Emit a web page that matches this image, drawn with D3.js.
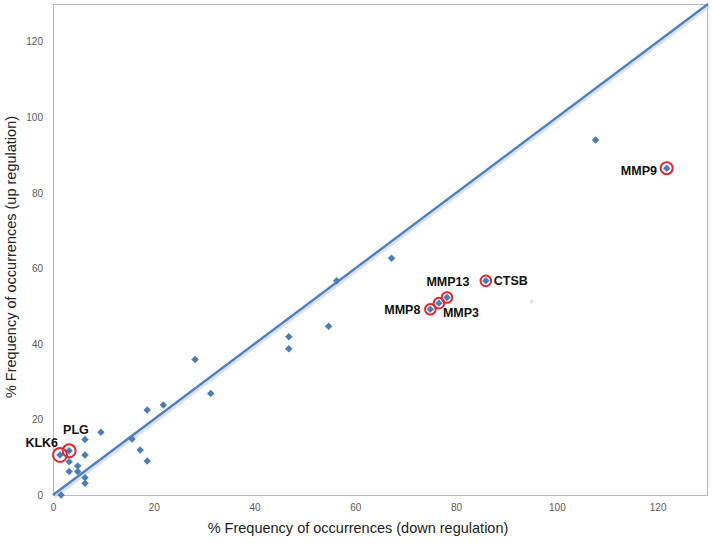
<!DOCTYPE html>
<html>
<head>
<meta charset="utf-8">
<script src="https://cdn.jsdelivr.net/npm/d3@7"></script>
<style>
  html, body { margin: 0; padding: 0; background: #fff; }
  svg { display: block; }
</style>
</head>
<body>
<svg id="chart" width="712" height="548"></svg>
<script>
// ---- data ----
const downReg = [1.6, 1.4, 3.2, 3.2, 3.2, 4.9, 4.9, 6.35, 6.35, 6.35, 6.35, 9.5, 15.7, 17.3, 18.7, 18.7, 21.9, 28.2, 31.3, 46.8, 46.8, 54.7, 56.3, 67.2, 74.9, 76.6, 78.2, 85.9, 107.7, 121.8];
const upReg   = [0.0, 10.6, 11.7, 8.8, 6.2, 7.7, 6.2, 14.7, 10.6, 4.6, 3.1, 16.6, 14.8, 11.9, 9.0, 22.5, 23.8, 35.9, 26.9, 41.9, 38.7, 44.7, 56.7, 62.7, 49.2, 50.8, 52.3, 56.7, 94.0, 86.5];
const faintDown = [95.0];
const faintUp   = [51.2];
const genes     = ["KLK6", "PLG", "MMP8", "MMP3", "MMP13", "CTSB", "MMP9"];
const geneIndex = [1, 2, 24, 25, 26, 27, 29];
const xTicks = [0, 20, 40, 60, 80, 100, 120];
const yTicks = [0, 20, 40, 60, 80, 100, 120];
const xTitle = "% Frequency of occurrences (down regulation)";
const yTitle = "% Frequency of occurrences (up regulation)";

(function () {
// ---- layout ----
const svg = d3.select("#chart");
const pLeft = 53, pRight = 708, pTop = 4, pBottom = 495;
const x = d3.scaleLinear().domain([0, 130]).range([pLeft, pRight]);
const y = d3.scaleLinear().domain([0, 130]).range([pBottom, pTop]);

const blue = "#4a7ebb";
const red = "#e3262b";
const font = "Liberation Sans, Arial, sans-serif";

// plot border
svg.append("rect")
  .attr("x", pLeft + 0.5).attr("y", pTop + 0.5)
  .attr("width", x(130) - pLeft - 1).attr("height", pBottom - pTop)
  .attr("fill", "none").attr("stroke", "#a7b9d4").attr("stroke-width", 1);

// axes (labels only)
const xAxis = d3.axisBottom(x).tickValues(xTicks).tickSize(0).tickPadding(9);
const gx = svg.append("g").attr("transform", `translate(0,${pBottom})`).call(xAxis);
gx.select(".domain").remove();
gx.selectAll("text").attr("font-family", font).attr("font-size", 10).attr("fill", "#595959");

const yAxis = d3.axisLeft(y).tickValues(yTicks).tickSize(0).tickPadding(10);
const gy = svg.append("g").attr("transform", `translate(${pLeft},0)`).call(yAxis);
gy.select(".domain").remove();
gy.selectAll("text").attr("font-family", font).attr("font-size", 10).attr("fill", "#595959");

// diagonal y = x reference line with soft shadow
const lineGen = d3.line().x(d => x(d)).y(d => y(d));
const diag = [0, 130];
svg.append("path").attr("d", lineGen(diag))
  .attr("transform", "translate(1.5,2)")
  .attr("stroke", "#c9d6e8").attr("stroke-width", 3).attr("fill", "none").attr("opacity", 0.7);
svg.append("path").attr("d", lineGen(diag))
  .attr("stroke", "#4f81bd").attr("stroke-width", 2.4).attr("fill", "none");

// faint point
const sym = d3.symbol().type(d3.symbolSquare);
svg.selectAll(".faint").data(faintDown.map((d, i) => [d, faintUp[i]])).join("path")
  .attr("class", "faint")
  .attr("d", sym.size(14)())
  .attr("transform", d => `translate(${x(d[0])},${y(d[1])}) rotate(45)`)
  .attr("fill", "#e6e6e6");

// data points
const pts = downReg.map((d, i) => [d, upReg[i]]);
svg.selectAll(".pt").data(pts).join("path")
  .attr("class", "pt")
  .attr("d", sym.size(28)())
  .attr("transform", d => `translate(${x(d[0])},${y(d[1])}) rotate(45)`)
  .attr("fill", blue);

// highlight circles and labels
const circleR = { KLK6: 7, PLG: 6.5, MMP8: 5.3, MMP3: 5.3, MMP13: 5.3, CTSB: 5.3, MMP9: 6 };
const labelPos = {
  KLK6:  { dx: -2,   dy: -8,   anchor: "end" },
  PLG:   { dx: -6,   dy: -17,  anchor: "start" },
  MMP8:  { dx: -10,  dy: 4.7,  anchor: "end" },
  MMP3:  { dx: 4,    dy: 13.4, anchor: "start" },
  MMP13: { dx: 1,    dy: -11,  anchor: "middle" },
  CTSB:  { dx: 8,    dy: 4.5,  anchor: "start" },
  MMP9:  { dx: -9.7, dy: 6.7,  anchor: "end" }
};
genes.forEach((g, k) => {
  const i = geneIndex[k];
  const cx = x(downReg[i]), cy = y(upReg[i]);
  svg.append("circle").attr("cx", cx).attr("cy", cy).attr("r", circleR[g])
    .attr("fill", "none").attr("stroke", red).attr("stroke-width", 2);
  const p = labelPos[g];
  svg.append("text").attr("x", cx + p.dx).attr("y", cy + p.dy)
    .attr("text-anchor", p.anchor)
    .attr("font-family", font)
    .attr("font-weight", "bold").attr("font-size", 12.5).attr("fill", "#111")
    .text(g);
});

// axis titles
svg.append("text").attr("x", 358).attr("y", 533).attr("text-anchor", "middle")
  .attr("font-family", font).attr("font-size", 14.5).attr("fill", "#222")
  .text(xTitle);
svg.append("text").attr("transform", "translate(16,257) rotate(-90)").attr("text-anchor", "middle")
  .attr("font-family", font).attr("font-size", 14.5).attr("fill", "#222")
  .text(yTitle);
})();
</script>
</body>
</html>
